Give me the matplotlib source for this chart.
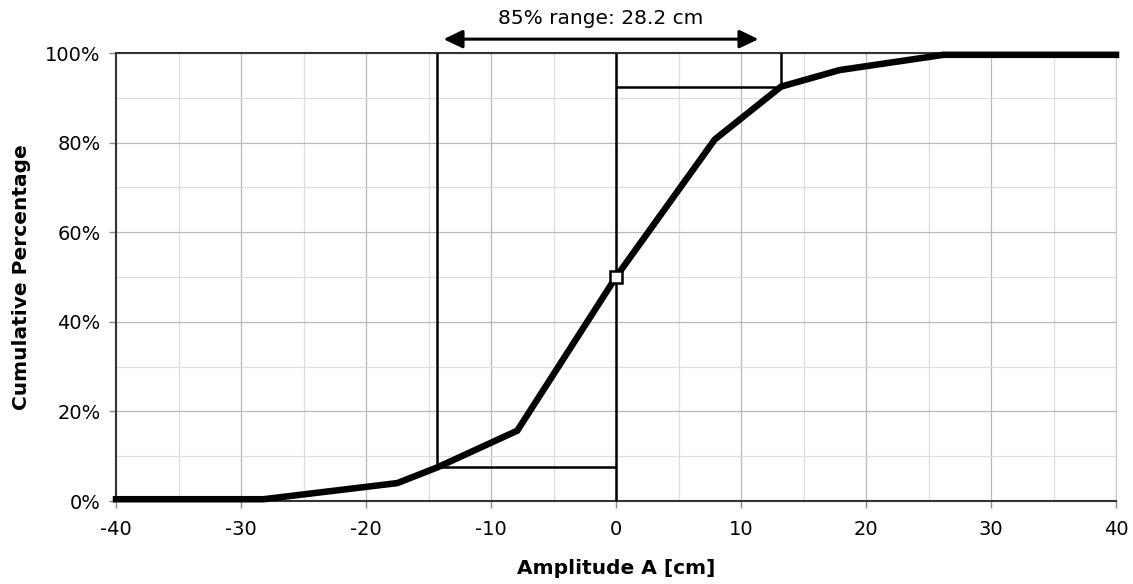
import matplotlib.pyplot as plt
from matplotlib.ticker import MultipleLocator, FuncFormatter
import matplotlib.transforms as mtransforms

# cumulative distribution
amplitude = [-40, -28.2, -17.5, -14.3, -7.9, 0, 7.9, 13.2, 17.9, 26.2, 40]
cum_pct = [0.4, 0.4, 4.0, 7.5, 15.7, 50, 80.7, 92.5, 96.2, 99.6, 99.6]

lo_x, hi_x = -14.3, 13.2      # 7.5 % and 92.5 % points
lo_pct, hi_pct = 7.5, 92.5
median_x, median_pct = 0, 50
arrow_from, arrow_to = -13.8, 11.4
range_label = '85% range: 28.2 cm'

plt.rcParams['font.family'] = ['DejaVu Sans']
plt.rcParams['axes.unicode_minus'] = False

fig = plt.figure(figsize=(11.33, 5.84), dpi=100)
ax = fig.add_axes([0.1024, 0.1421, 0.8826, 0.7671])

ax.set_xlim(-40, 40)
ax.set_ylim(0, 100)
ax.xaxis.set_major_locator(MultipleLocator(10))
ax.xaxis.set_minor_locator(MultipleLocator(5))
ax.yaxis.set_major_locator(MultipleLocator(20))
ax.yaxis.set_minor_locator(MultipleLocator(10))
ax.yaxis.set_major_formatter(FuncFormatter(lambda v, p: '%d%%' % v))

ax.grid(which='major', color='#b8b8b8', lw=0.9)
ax.grid(which='minor', color='#dedede', lw=0.9)
ax.set_axisbelow(True)
ax.tick_params(which='minor', length=0)
ax.tick_params(which='major', length=5, width=1, color='#888888',
               labelsize=14, labelcolor='black')
ax.tick_params(axis='x', pad=9)
ax.tick_params(axis='y', pad=6)

for side in ('left', 'bottom', 'top'):
    ax.spines[side].set_color('#333333')
    ax.spines[side].set_linewidth(1.5)
ax.spines['right'].set_color('#c8c8c8')

# percentile box lines
box = dict(color='black', lw=1.8, solid_capstyle='butt', zorder=3)
ax.plot([median_x, median_x], [0, 100], **box)
ax.plot([lo_x, lo_x], [lo_pct, 100], **box)
ax.plot([lo_x, median_x], [lo_pct, lo_pct], **box)
ax.plot([median_x, hi_x], [hi_pct, hi_pct], **box)
ax.plot([hi_x, hi_x], [hi_pct, 100], **box)

ax.plot(amplitude, cum_pct, color='black', lw=4.7, solid_joinstyle='miter',
        zorder=4, clip_on=False)
ax.plot([median_x], [median_pct], marker='s', ms=8, mfc='white', mec='black',
        mew=1.8, zorder=5)

trans = mtransforms.blended_transform_factory(ax.transData, ax.transAxes)
ax.annotate('', xy=(arrow_to, 1.031), xytext=(arrow_from, 1.031),
            xycoords=trans, textcoords=trans, annotation_clip=False,
            arrowprops=dict(arrowstyle='<|-|>,head_length=1.15,head_width=0.55',
                            color='black', lw=2.2, shrinkA=0, shrinkB=0))
ax.text((arrow_from + arrow_to) / 2, 1.078, range_label, transform=trans,
        ha='center', va='center', fontsize=14.5, color='black')

ax.set_xlabel('Amplitude A [cm]', fontsize=14.5, fontweight='bold', labelpad=14)
ax.set_ylabel('Cumulative Percentage', fontsize=14.5, fontweight='bold', labelpad=10)

fig.savefig('out.png', dpi=100)
